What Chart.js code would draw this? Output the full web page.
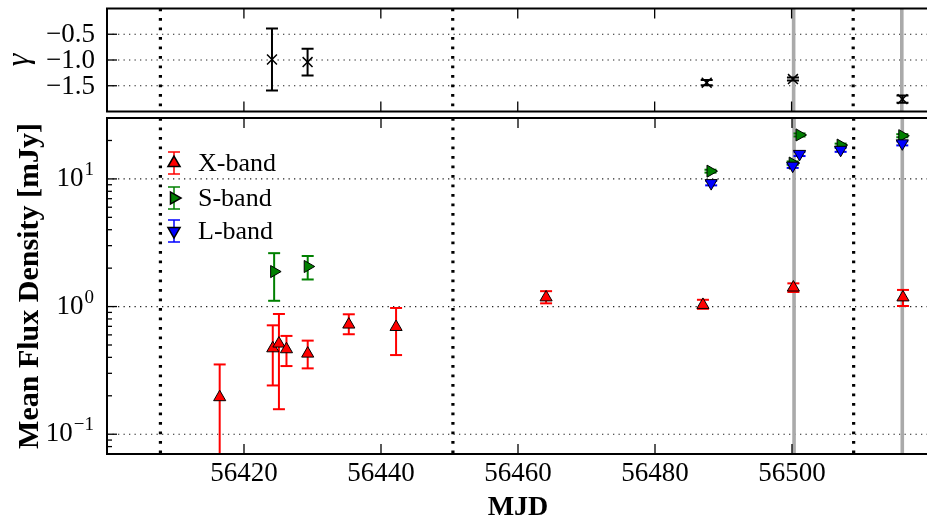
<!DOCTYPE html>
<html>
<head>
<meta charset="utf-8">
<script src="https://cdn.jsdelivr.net/npm/chart.js@4.4.1/dist/chart.umd.min.js"></script>
<style>
  html, body { margin: 0; padding: 0; background: #fff; overflow: hidden; }
  #wrap { position: relative; width: 927px; height: 517px; overflow: hidden; background: #fff; }
  canvas { position: absolute; left: 0; }
  #gammaChart { top: 0; }
  #fluxChart { top: 110px; }
</style>
</head>
<body>
<div id="wrap">
  <canvas id="gammaChart" width="937" height="120"></canvas>
  <canvas id="fluxChart" width="937" height="407"></canvas>
</div>
<script>
// Axis ranges and ticks
const mjdMin = 56400;
const mjdMax = 56520;
const mjdTicks = [56420, 56440, 56460, 56480, 56500];
const gammaTicks = [-1.5, -1.0, -0.5];
const fluxTicks = [0.1, 1, 10];
const fluxExp = ['\u22121', '0', '1'];

// Event markers
const dottedMjd = [56407.8, 56450.5, 56509.0];
const grayMjd = [56500.3, 56516.1];

// Spectral index (top panel)
const gammaMjd = [56424.1, 56429.3, 56487.6, 56500.2, 56516.2];
const gammaVal = [-0.99, -1.04, -1.44, -1.37, -1.76];
const gammaErr = [0.60, 0.26, 0.05, 0.03, 0.07];

// X-band
const xMjd = [56416.45, 56424.2, 56425.1, 56426.2, 56429.3, 56435.3, 56442.2, 56464.1, 56487.0, 56500.2, 56516.2];
const xFlux = [0.195, 0.471, 0.513, 0.463, 0.428, 0.723, 0.692, 1.18, 1.03, 1.41, 1.18];
const xLo = [0.01, 0.241, 0.157, 0.342, 0.328, 0.607, 0.417, 1.06, 0.96, 1.30, 1.01];
const xHi = [0.352, 0.713, 0.875, 0.589, 0.541, 0.87, 0.975, 1.32, 1.13, 1.52, 1.35];

// S-band
const sMjd = [56424.4, 56429.3, 56488.1, 56500.1, 56501.1, 56507.1, 56516.1];
const sFlux = [1.88, 2.06, 11.5, 13.3, 22.1, 18.4, 21.8];
const sLo = [1.11, 1.63, 11.2, 12.9, 21.5, 17.9, 21.2];
const sHi = [2.62, 2.49, 11.8, 13.7, 22.7, 18.9, 22.4];

// L-band
const lMjd = [56488.2, 56500.1, 56501.1, 56507.1, 56516.1];
const lFlux = [9.27, 12.7, 15.7, 16.9, 19.0];
const lLo = [8.9, 12.2, 15.1, 16.3, 18.3];
const lHi = [9.65, 13.2, 16.3, 17.5, 19.7];

const SERIF = '"Liberation Serif", "DejaVu Serif", serif';
const LEFT_W = 107;

function line(ctx, x1, y1, x2, y2) {
    ctx.beginPath();
    ctx.moveTo(x1, y1);
    ctx.lineTo(x2, y2);
    ctx.stroke();
}

function clipArea(ctx, a) {
    ctx.beginPath();
    ctx.rect(a.left, a.top, a.right - a.left, a.bottom - a.top);
    ctx.clip();
}

// grid, grey and dotted vertical lines behind the data
function drawGuides(chart, yTicks) {
    const { ctx, chartArea: a, scales } = chart;
    ctx.save();
    clipArea(ctx, a);
    ctx.strokeStyle = '#222';
    ctx.lineWidth = 1.2;
    ctx.setLineDash([1.3, 4.2]);
    yTicks.forEach(v => {
        const py = scales.y.getPixelForValue(v);
        line(ctx, a.left, py, a.right, py);
    });
    ctx.setLineDash([]);
    ctx.strokeStyle = '#aaaaaa';
    ctx.lineWidth = 3.6;
    grayMjd.forEach(m => {
        const px = scales.x.getPixelForValue(m);
        line(ctx, px, a.top, px, a.bottom);
    });
    ctx.strokeStyle = '#000';
    ctx.lineWidth = 3.2;
    ctx.setLineDash([2.8, 6.7]);
    dottedMjd.forEach(m => {
        const px = scales.x.getPixelForValue(m);
        line(ctx, px, a.top, px, a.bottom);
    });
    ctx.restore();
}

function drawErrors(chart, xs, lo, hi, color, lw) {
    const { ctx, chartArea: a, scales } = chart;
    ctx.save();
    clipArea(ctx, a);
    ctx.strokeStyle = color;
    ctx.lineWidth = lw;
    xs.forEach((m, i) => {
        const px = scales.x.getPixelForValue(m);
        const y1 = scales.y.getPixelForValue(lo[i]);
        const y2 = scales.y.getPixelForValue(hi[i]);
        line(ctx, px, y1, px, y2);
        line(ctx, px - 6, y1, px + 6, y1);
        line(ctx, px - 6, y2, px + 6, y2);
    });
    ctx.restore();
}

// frame and inward ticks
function drawFrame(chart, yTicks, minor) {
    const { ctx, chartArea: a, scales } = chart;
    ctx.save();
    ctx.strokeStyle = '#000';
    ctx.lineWidth = 1.3;
    mjdTicks.forEach(m => {
        const px = scales.x.getPixelForValue(m);
        line(ctx, px, a.top, px, a.top + 10);
        line(ctx, px, a.bottom - 10, px, a.bottom);
    });
    yTicks.forEach(v => {
        const py = scales.y.getPixelForValue(v);
        line(ctx, a.left, py, a.left + 10, py);
    });
    minor.forEach(v => {
        const py = scales.y.getPixelForValue(v);
        line(ctx, a.left, py, a.left + 5, py);
    });
    ctx.lineWidth = 2;
    ctx.strokeRect(a.left, a.top, a.right - a.left, a.bottom - a.top);
    ctx.restore();
}

function marker(ctx, style, rotation, x, y) {
    Chart.helpers.drawPoint(ctx, { pointStyle: style, radius: 7, rotation: rotation, borderWidth: 1 }, x, y);
}

const fixWidth = scale => { scale.width = LEFT_W; };

const gammaCtx = document.getElementById('gammaChart').getContext('2d');
const gammaChart = new Chart(gammaCtx, {
    type: 'scatter',
    data: {
        datasets: [{
            data: gammaMjd.map((m, i) => ({ x: m, y: gammaVal[i] })),
            pointStyle: 'crossRot',
            radius: 7,
            borderColor: '#000',
            borderWidth: 1.5
        }]
    },
    options: {
        responsive: false,
        animation: false,
        events: [],
        layout: { padding: { top: 7, bottom: 2, left: 0, right: 0 } },
        plugins: { legend: { display: false }, tooltip: { enabled: false } },
        scales: {
            x: { type: 'linear', min: mjdMin, max: mjdMax, display: false },
            y: {
                min: -2, max: 0,
                afterBuildTicks: s => { s.ticks = gammaTicks.map(v => ({ value: v })); },
                afterFit: fixWidth,
                grid: { display: false, drawTicks: false },
                border: { display: false },
                ticks: { display: false },
                title: {
                    display: true, text: '\u03b3', color: '#000',
                    padding: { top: 0, bottom: 0 },
                    font: { family: SERIF, size: 32, style: 'italic' }
                }
            }
        }
    },
    plugins: [{
        id: 'gammaDecor',
        beforeDatasetsDraw(chart) {
            drawGuides(chart, gammaTicks);
            const lo = gammaVal.map((v, i) => v - gammaErr[i]);
            const hi = gammaVal.map((v, i) => v + gammaErr[i]);
            drawErrors(chart, gammaMjd, lo, hi, '#000', 2);
        },
        afterDraw(chart) {
            const { ctx, scales } = chart;
            drawFrame(chart, gammaTicks, []);
            ctx.save();
            ctx.fillStyle = '#000';
            ctx.font = '27px ' + SERIF;
            ctx.textAlign = 'right';
            ctx.textBaseline = 'middle';
            gammaTicks.forEach(v => {
                const label = (v < 0 ? '\u2212' : '') + Math.abs(v).toFixed(1);
                ctx.fillText(label, 95, scales.y.getPixelForValue(v) + 1);
            });
            ctx.restore();
        }
    }]
});

const minorFlux = [];
[0.01, 0.1, 1, 10].forEach(d => {
    for (let k = 2; k <= 9; k++) {
        const v = d * k;
        if (v > 0.07 && v < 30) minorFlux.push(v);
    }
});

const fluxCtx = document.getElementById('fluxChart').getContext('2d');
const fluxChart = new Chart(fluxCtx, {
    type: 'scatter',
    data: {
        datasets: [{
            label: 'X-band',
            data: xMjd.map((m, i) => ({ x: m, y: xFlux[i] })),
            pointStyle: 'triangle', rotation: 0, radius: 7,
            backgroundColor: '#ff0000', borderColor: '#000', borderWidth: 1, order: 3
        }, {
            label: 'S-band',
            data: sMjd.map((m, i) => ({ x: m, y: sFlux[i] })),
            pointStyle: 'triangle', rotation: 90, radius: 7,
            backgroundColor: '#008000', borderColor: '#000', borderWidth: 1, order: 2
        }, {
            label: 'L-band',
            data: lMjd.map((m, i) => ({ x: m, y: lFlux[i] })),
            pointStyle: 'triangle', rotation: 180, radius: 7,
            backgroundColor: '#0000ff', borderColor: '#000', borderWidth: 1, order: 1
        }]
    },
    options: {
        responsive: false,
        animation: false,
        events: [],
        layout: { padding: { top: 8, bottom: 0, left: 0, right: 0 } },
        plugins: { legend: { display: false }, tooltip: { enabled: false } },
        scales: {
            x: {
                type: 'linear', min: mjdMin, max: mjdMax,
                afterBuildTicks: s => { s.ticks = mjdTicks.map(v => ({ value: v })); },
                afterFit: s => { s.height = 63; },
                grid: { display: false, drawTicks: false },
                border: { display: false },
                ticks: {
                    padding: 4, color: '#000', maxRotation: 0, autoSkip: false,
                    font: { family: SERIF, size: 27 },
                    callback: v => String(v)
                },
                title: {
                    display: true, text: 'MJD', color: '#000',
                    padding: { top: 0, bottom: 0 },
                    font: { family: SERIF, size: 28, weight: 'bold', lineHeight: 0.65 }
                }
            },
            y: {
                type: 'logarithmic', min: 0.07, max: 30,
                afterBuildTicks: s => { s.ticks = fluxTicks.map(v => ({ value: v })); },
                afterFit: fixWidth,
                grid: { display: false, drawTicks: false },
                border: { display: false },
                ticks: { display: false },
                title: {
                    display: true, text: 'Mean Flux Density [mJy]', color: '#000',
                    padding: { top: 12, bottom: 0 },
                    font: { family: SERIF, size: 30, weight: 'bold' }
                }
            }
        }
    },
    plugins: [{
        id: 'fluxDecor',
        beforeDatasetsDraw(chart) {
            drawGuides(chart, fluxTicks);
            drawErrors(chart, xMjd, xLo, xHi, '#ff0000', 2);
            drawErrors(chart, sMjd, sLo, sHi, '#008000', 2);
            drawErrors(chart, lMjd, lLo, lHi, '#0000ff', 2);
        },
        afterDraw(chart) {
            const { ctx, scales } = chart;
            drawFrame(chart, fluxTicks, minorFlux);

            // log tick labels with superscripts
            ctx.save();
            ctx.fillStyle = '#000';
            ctx.textAlign = 'right';
            ctx.textBaseline = 'middle';
            fluxTicks.forEach((v, i) => {
                const py = scales.y.getPixelForValue(v);
                ctx.font = '19px ' + SERIF;
                const ew = ctx.measureText(fluxExp[i]).width;
                ctx.fillText(fluxExp[i], 94, py - 9);
                ctx.font = '27px ' + SERIF;
                ctx.fillText('10', 94 - ew - 1, py);
            });
            ctx.restore();

            // legend
            const items = [
                { text: 'X-band', color: '#ff0000', rot: 0, y: 163 - 110 },
                { text: 'S-band', color: '#008000', rot: 90, y: 198 - 110 },
                { text: 'L-band', color: '#0000ff', rot: 180, y: 231 - 110 }
            ];
            ctx.save();
            items.forEach(it => {
                ctx.strokeStyle = it.color;
                ctx.lineWidth = 1.5;
                line(ctx, 174, it.y - 11, 174, it.y + 11);
                line(ctx, 168, it.y - 11, 180, it.y - 11);
                line(ctx, 168, it.y + 11, 180, it.y + 11);
                ctx.fillStyle = it.color;
                ctx.strokeStyle = '#000';
                marker(ctx, 'triangle', it.rot, 174, it.y);
                ctx.fillStyle = '#000';
                ctx.font = '26px ' + SERIF;
                ctx.textAlign = 'left';
                ctx.textBaseline = 'middle';
                ctx.fillText(it.text, 198, it.y + 1);
            });
            ctx.restore();
        }
    }]
});
</script>
</body>
</html>
